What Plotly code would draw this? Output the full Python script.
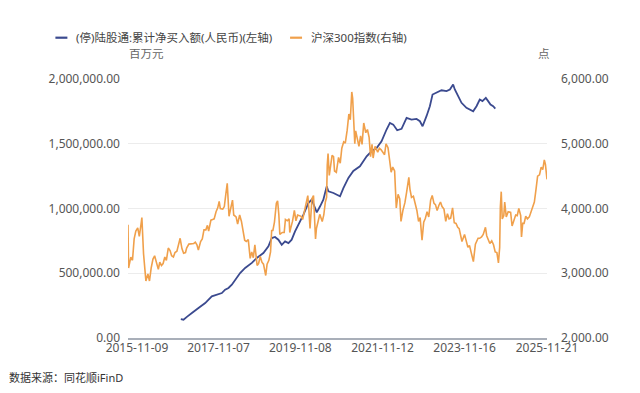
import plotly.graph_objects as go

# ---------------- data ----------------
hs300_dates = [
 "2015-08-21","2015-08-26","2015-09-15","2015-09-30","2015-10-15","2015-10-30","2015-11-16","2015-11-30","2015-12-15","2015-12-23",
 "2016-01-07","2016-01-15","2016-01-28","2016-02-15","2016-02-29","2016-03-15","2016-03-31","2016-04-15","2016-04-29","2016-05-18",
 "2016-05-31","2016-06-15","2016-06-30","2016-07-15","2016-07-29","2016-08-15","2016-08-31","2016-09-14","2016-09-30","2016-10-14",
 "2016-10-31","2016-11-15","2016-11-29","2016-12-15","2016-12-30",
 "2017-01-16","2017-01-26","2017-02-15","2017-02-28","2017-03-15","2017-03-31","2017-04-14","2017-04-28","2017-05-11","2017-05-31",
 "2017-06-15","2017-06-30","2017-07-17","2017-07-31","2017-08-11","2017-08-31","2017-09-15","2017-09-29","2017-10-16","2017-10-31",
 "2017-11-13","2017-11-23","2017-12-15","2017-12-29",
 "2018-01-12","2018-01-24","2018-02-09","2018-02-28","2018-03-12","2018-03-23","2018-04-13","2018-04-27","2018-05-15","2018-05-31",
 "2018-06-15","2018-06-29","2018-07-13","2018-07-31","2018-08-17","2018-08-31","2018-09-14","2018-09-28","2018-10-18","2018-10-31",
 "2018-11-15","2018-11-30","2018-12-14","2018-12-28",
 "2019-01-03","2019-01-15","2019-01-31","2019-02-15","2019-02-25","2019-03-08","2019-03-22","2019-04-08","2019-04-19","2019-04-30",
 "2019-05-09","2019-05-31","2019-06-17","2019-06-28","2019-07-15","2019-07-31","2019-08-06","2019-08-15","2019-08-30","2019-09-16",
 "2019-09-30","2019-10-15","2019-10-31","2019-11-15","2019-11-29","2019-12-16","2019-12-31",
 "2020-01-14","2020-01-23","2020-02-03","2020-02-20","2020-03-05","2020-03-23","2020-03-31","2020-04-15","2020-04-30","2020-05-22",
 "2020-06-05","2020-06-19","2020-06-30","2020-07-06","2020-07-13","2020-07-24","2020-08-07","2020-08-18","2020-08-31","2020-09-09",
 "2020-09-25","2020-10-15","2020-10-30","2020-11-13","2020-11-30","2020-12-14","2020-12-31",
 "2021-01-15","2021-01-28","2021-02-10","2021-02-18","2021-03-09","2021-03-17","2021-03-31","2021-04-15","2021-04-30","2021-05-13",
 "2021-05-28","2021-06-15","2021-06-30","2021-07-15","2021-07-28","2021-08-10","2021-08-20","2021-09-06","2021-09-30","2021-10-15",
 "2021-10-29","2021-11-15","2021-11-30","2021-12-13","2021-12-31",
 "2022-01-14","2022-01-28","2022-02-11","2022-02-28","2022-03-15","2022-03-31","2022-04-15","2022-04-26","2022-05-13","2022-05-31",
 "2022-06-15","2022-07-05","2022-07-15","2022-07-29","2022-08-15","2022-08-31","2022-09-15","2022-09-30","2022-10-14","2022-10-31",
 "2022-11-15","2022-11-30","2022-12-15","2022-12-30",
 "2023-01-16","2023-01-30","2023-02-15","2023-02-28","2023-03-15","2023-03-31","2023-04-14","2023-04-28","2023-05-15","2023-05-31",
 "2023-06-15","2023-06-30","2023-07-14","2023-07-31","2023-08-15","2023-08-31","2023-09-15","2023-09-28","2023-10-23","2023-11-15",
 "2023-11-30","2023-12-15","2023-12-29",
 "2024-01-15","2024-01-22","2024-02-02","2024-02-20","2024-03-15","2024-03-29","2024-04-15","2024-04-30","2024-05-20","2024-05-31",
 "2024-06-14","2024-06-28","2024-07-15","2024-07-31","2024-08-15","2024-08-30","2024-09-13","2024-09-24","2024-09-30","2024-10-08",
 "2024-10-17","2024-10-31","2024-11-08","2024-11-22","2024-12-09","2024-12-31",
 "2025-01-13","2025-01-27","2025-02-14","2025-02-28","2025-03-14","2025-03-31","2025-04-07","2025-04-18","2025-04-30","2025-05-15",
 "2025-05-30","2025-06-16","2025-06-30","2025-07-15","2025-07-31","2025-08-15","2025-08-29","2025-09-15","2025-09-30","2025-10-14",
 "2025-10-28","2025-11-07","2025-11-21",
]
hs300_values = [
 3750,3080,3250,3200,3530,3650,3700,3570,3750,3860,
 3300,3120,2880,2990,2880,3080,3220,3270,3160,3060,
 3170,3120,3150,3250,3200,3390,3350,3270,3250,3320,
 3340,3430,3540,3380,3310,
 3320,3390,3450,3450,3460,3460,3480,3440,3360,3490,
 3530,3670,3670,3740,3650,3820,3830,3840,3950,4010,
 4110,4000,3990,4030,
 4230,4390,3880,4020,4130,3900,3870,3760,3900,3800,
 3630,3510,3490,3520,3230,3330,3240,3440,3120,3150,
 3260,3170,3140,3010,
 2965,3140,3200,3330,3660,3660,3790,4080,4120,3910,
 3600,3630,3630,3830,3810,3840,3630,3700,3800,3970,
 3810,3900,3890,3880,3830,3990,4100,
 4200,4000,3690,4150,4200,3530,3690,3800,3910,3800,
 3900,4100,4170,4670,4850,4510,4700,4820,4800,4580,
 4560,4790,4700,4930,5030,5010,5210,
 5460,5370,5800,5700,5000,5200,5050,4960,5120,4990,
 5320,5170,5220,5100,4800,4990,4780,4960,4870,4930,
 4910,4860,4830,5000,4940,
 4750,4560,4640,4580,4010,4220,4150,3800,3970,4090,
 4250,4480,4300,4170,4190,4080,3970,3800,3860,3510,
 3790,3850,3950,3870,
 4130,4200,4080,4060,3970,4050,4100,4030,3990,3800,
 3920,3840,3850,4010,3780,3770,3710,3690,3490,3600,
 3500,3400,3430,
 3300,3220,3180,3450,3540,3540,3560,3600,3710,3580,
 3530,3460,3500,3440,3330,3320,3160,3400,4020,4260,
 3840,3890,4100,3870,3950,3940,
 3730,3820,3900,3890,4000,3890,3560,3770,3770,3880,
 3840,3870,3940,4050,4100,4300,4500,4520,4640,4600,
 4750,4680,4450,
]

north_dates = [
 "2016-12-05","2016-12-29","2017-01-31","2017-02-28","2017-03-14","2017-05-12","2017-07-11","2017-09-08","2017-10-23","2017-12-07",
 "2018-01-05","2018-02-04","2018-03-06","2018-04-05","2018-05-19","2018-07-03","2018-09-01","2018-10-15","2018-12-13",
 "2019-01-27","2019-02-26","2019-03-27","2019-04-26","2019-05-26","2019-06-25","2019-07-25","2019-08-23","2019-09-22","2019-10-22",
 "2019-12-06","2020-01-19","2020-02-18","2020-03-19","2020-04-03","2020-05-03","2020-06-01","2020-07-01","2020-07-16","2020-08-30",
 "2020-10-28","2020-11-27","2021-01-11","2021-02-24","2021-04-24","2021-06-23","2021-08-06","2021-09-20","2021-11-03","2021-12-18",
 "2022-01-17","2022-02-16","2022-03-23","2022-05-01","2022-06-15","2022-07-29","2022-09-12","2022-10-12","2022-11-05","2022-12-10",
 "2023-01-09","2023-02-02","2023-03-10","2023-04-23","2023-06-07","2023-07-07","2023-08-05","2023-08-20","2023-09-19","2023-10-19",
 "2023-12-02","2024-01-16","2024-01-31","2024-03-01","2024-03-30","2024-04-23","2024-05-23","2024-06-13","2024-07-04","2024-07-28",
 "2024-08-16",
]
north_values = [
 145000,141000,165000,180000,193000,231000,270000,322000,335000,347000,
 373000,386000,412000,451000,502000,541000,580000,618000,656000,
 708000,772000,780000,759000,720000,746000,733000,759000,823000,875000,
 952000,1042000,1068000,1004000,970000,1017000,1068000,1171000,1133000,1120000,
 1094000,1158000,1236000,1290000,1326000,1403000,1442000,1467000,1519000,1610000,
 1661000,1648000,1604000,1615000,1700000,1687000,1692000,1674000,1635000,1713000,
 1790000,1880000,1893000,1913000,1906000,1919000,1958000,1919000,1867000,1816000,
 1777000,1759000,1751000,1790000,1841000,1829000,1854000,1829000,1803000,1790000,
 1772000,
]

x_tick_dates = ["2015-11-09","2017-11-07","2019-11-08","2021-11-12","2023-11-16","2025-11-21"]
left_ticks = [0, 500000, 1000000, 1500000, 2000000]
left_tick_text = ["0.00", "500,000.00", "1,000,000.00", "1,500,000.00", "2,000,000.00"]
right_ticks = [2000, 3000, 4000, 5000, 6000]
right_tick_text = ["2,000.00", "3,000.00", "4,000.00", "5,000.00", "6,000.00"]

name_north = "(停)陆股通:累计净买入额(人民币)(左轴)"
name_hs300 = "沪深300指数(右轴)"

BLUE = "#3b4a8f"
ORANGE = "#f0a04b"
FONT = "Noto Sans, Noto Sans CJK SC, sans-serif"

# ---------------- figure ----------------
fig = go.Figure()
fig.add_trace(go.Scatter(x=hs300_dates, y=hs300_values, name=name_hs300, mode="lines",
                         line=dict(color=ORANGE, width=1.6), yaxis="y2"))
fig.add_trace(go.Scatter(x=north_dates, y=north_values, name=name_north, mode="lines",
                         line=dict(color=BLUE, width=1.8), yaxis="y"))

# page has an 8px body margin, so the figure is drawn 8px in from the window edge
OFF = 8
W, H = 640 - 2 * OFF, 393 - 2 * OFF
L, R, T, B = 127.7 - OFF, 547.3 - OFF, 79.3 - OFF, 338.3 - OFF
pw, ph = R - L, B - T

def px(xp):
    return (xp - OFF - L) / pw

def py(yp):
    return (B - (yp - OFF)) / ph

fig.update_layout(
    width=W, height=H,
    margin=dict(l=L, r=W - R, t=T, b=H - B, pad=0),
    paper_bgcolor="white", plot_bgcolor="white",
    showlegend=False,
    font=dict(family=FONT, size=12, color="#666666"),
    xaxis=dict(type="date", range=["2015-08-21", "2025-11-21"], automargin=False,
               tickvals=x_tick_dates, ticktext=x_tick_dates,
               showgrid=False, zeroline=False, showline=True, linecolor="#a9afb9", linewidth=1.6,
               ticks="", tickfont=dict(size=12, color="#555555"), ticklabelstandoff=-2),
    yaxis=dict(range=[0, 2000000], tickvals=left_ticks, ticktext=left_tick_text, automargin=False,
               showgrid=True, gridcolor="#ececec", gridwidth=1, zeroline=False, showline=False,
               ticks="", tickfont=dict(size=12, color="#555555"), ticklabelstandoff=7),
    yaxis2=dict(range=[2000, 6000], tickvals=right_ticks, ticktext=right_tick_text, automargin=False,
                overlaying="y", side="right", showgrid=False, zeroline=False, showline=False,
                ticks="", tickfont=dict(size=12, color="#555555"), ticklabelstandoff=13),
)

# manual legend (short line samples like the original)
leg_y = py(38)
fig.add_shape(type="line", xref="paper", yref="paper", x0=px(55), x1=px(67), y0=leg_y, y1=leg_y,
              line=dict(color=BLUE, width=2.2))
fig.add_annotation(xref="paper", yref="paper", x=px(74), y=leg_y, text=name_north, showarrow=False,
                   xanchor="left", yanchor="middle", font=dict(size=11.5, color="#444444"))
fig.add_shape(type="line", xref="paper", yref="paper", x0=px(290), x1=px(302), y0=leg_y, y1=leg_y,
              line=dict(color=ORANGE, width=2.2))
fig.add_annotation(xref="paper", yref="paper", x=px(309), y=leg_y, text=name_hs300, showarrow=False,
                   xanchor="left", yanchor="middle", font=dict(size=11.5, color="#444444"))

# unit labels
fig.add_annotation(xref="paper", yref="paper", x=px(127), y=py(54), text="百万元", showarrow=False,
                   xanchor="left", yanchor="middle", font=dict(size=11.5, color="#666666"))
fig.add_annotation(xref="paper", yref="paper", x=px(552), y=py(54), text="点", showarrow=False,
                   xanchor="right", yanchor="middle", font=dict(size=11.5, color="#666666"))

# source
fig.add_annotation(xref="paper", yref="paper", x=px(7), y=py(378), text="数据来源：同花顺iFinD", showarrow=False,
                   xanchor="left", yanchor="middle", font=dict(size=11, color="#333333"))

fig.write_html("out.html")
